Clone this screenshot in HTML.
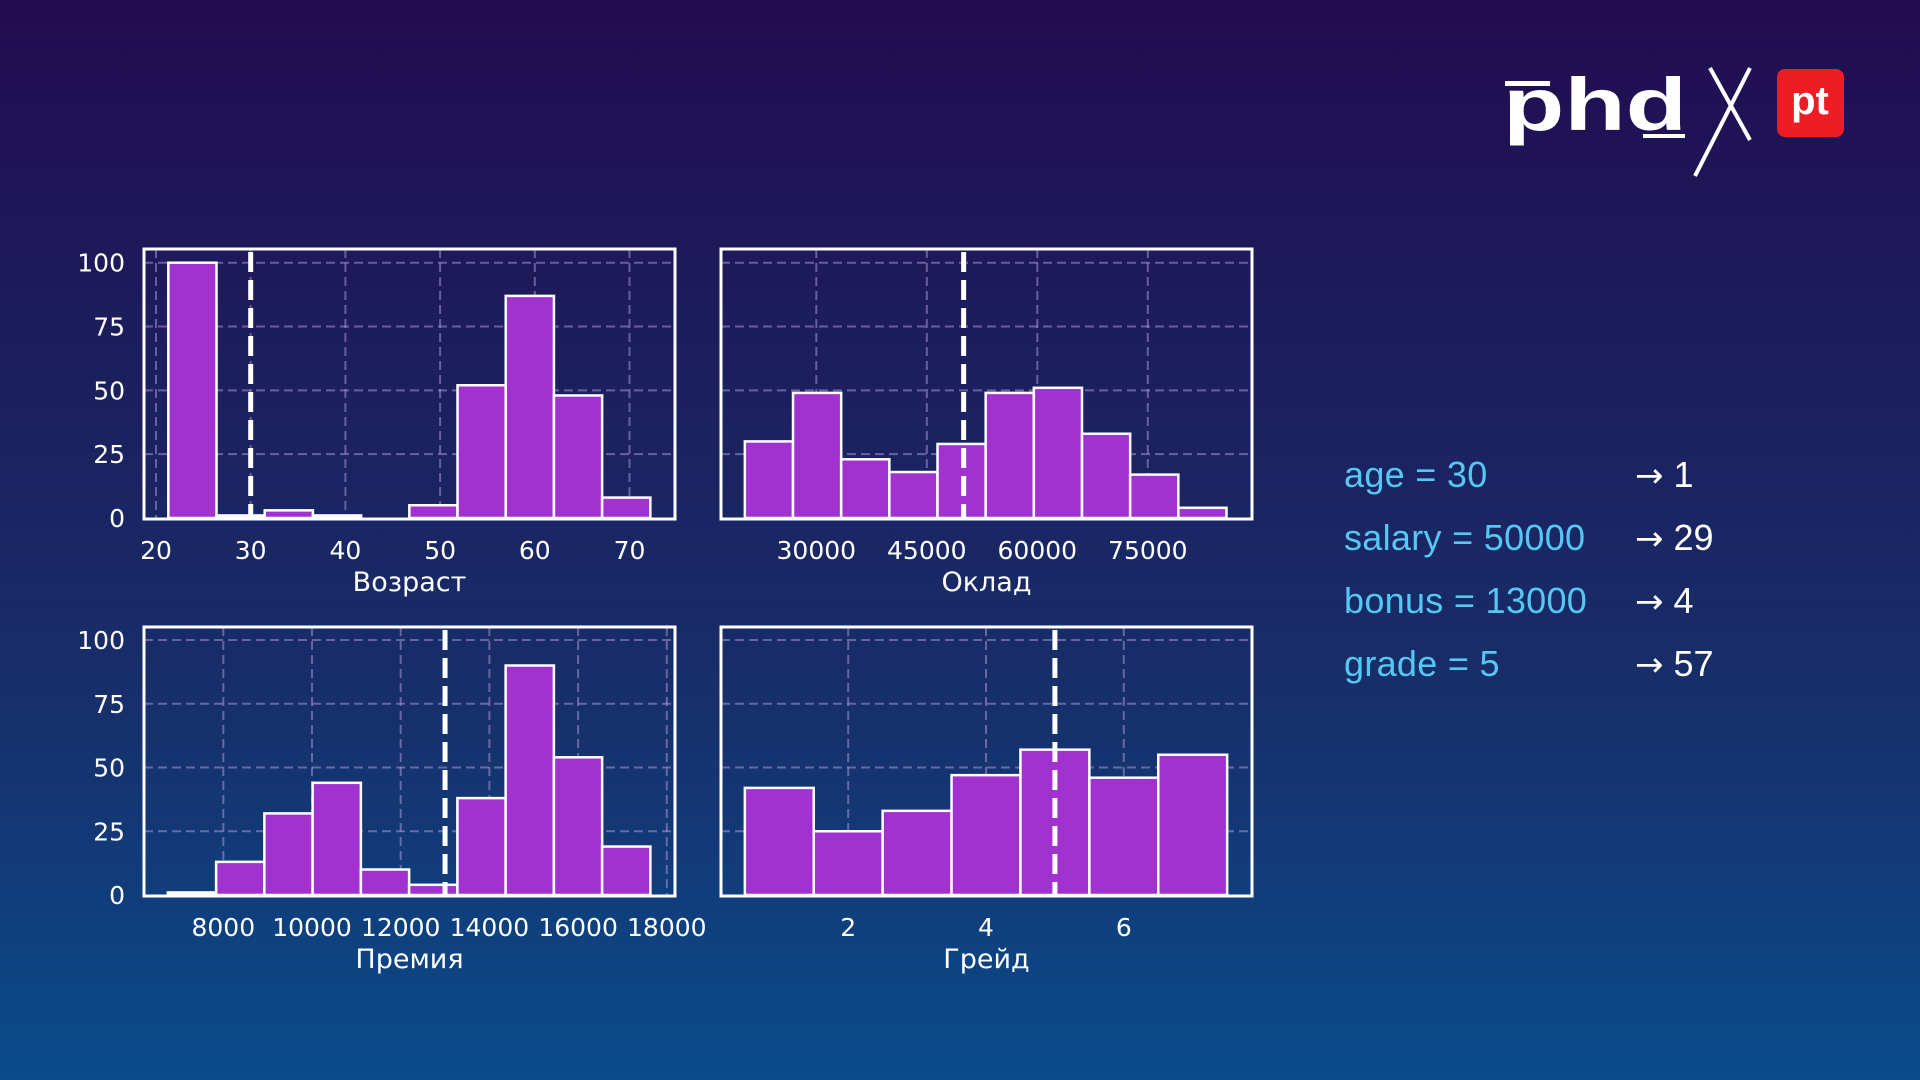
<!DOCTYPE html>
<html><head><meta charset="utf-8">
<style>
html,body{margin:0;padding:0;width:1920px;height:1080px;overflow:hidden;}
body{background:linear-gradient(180deg,#220c50 0%,#1c1f5e 35%,#172f6a 65%,#0a4b8c 100%);font-family:"DejaVu Sans","Liberation Sans",sans-serif;}
svg{position:absolute;left:0;top:0;}
.info{position:absolute;font-family:"Liberation Sans",sans-serif;font-size:36px;color:#54c8f2;letter-spacing:0.3px;}
.res{position:absolute;font-family:"Liberation Sans",sans-serif;font-size:36px;color:#fff;}
.arr{font-family:"DejaVu Sans",sans-serif;font-size:34px;}
</style></head>
<body>
<svg id="chart" width="1920" height="1080">
  <g>
    <rect x="1505" y="81" width="45" height="5" fill="#fff"/>
    <text x="1503" y="130" font-family="Liberation Sans, sans-serif" font-weight="bold" font-size="74" fill="#fff" textLength="184" lengthAdjust="spacingAndGlyphs">phd</text>
    <rect x="1643" y="134" width="42" height="4" fill="#fff"/>
    <line x1="1710" y1="68" x2="1750" y2="140" stroke="#fff" stroke-width="4"/>
    <line x1="1750" y1="68" x2="1695" y2="176" stroke="#fff" stroke-width="4"/>
    <rect x="1777" y="69" width="67" height="68" rx="8" fill="#ee1c24"/>
    <text x="1810" y="114" text-anchor="middle" font-family="Liberation Sans, sans-serif" font-weight="bold" font-size="40" fill="#fff">pt</text>
  </g>
</svg>

<div class="info" style="left:1344px;top:454px">age = 30</div>
<div class="info" style="left:1344px;top:517px">salary = 50000</div>
<div class="info" style="left:1344px;top:580px">bonus = 13000</div>
<div class="info" style="left:1344px;top:643px">grade = 5</div>
<div class="res" style="left:1635px;top:454px"><span class="arr">→</span> 1</div>
<div class="res" style="left:1635px;top:517px"><span class="arr">→</span> 29</div>
<div class="res" style="left:1635px;top:580px"><span class="arr">→</span> 4</div>
<div class="res" style="left:1635px;top:643px"><span class="arr">→</span> 57</div>

<script>
// ---- data ----
const ageCounts = [100, 1, 3, 1, 0, 5, 52, 87, 48, 8];
const ageBinStart = 21.3, ageBinEnd = 72.2;
const ageTicks = [20, 30, 40, 50, 60, 70];
const ageMarker = 30;

const salaryCounts = [30, 49, 23, 18, 29, 49, 51, 33, 17, 4];
const salaryBinStart = 20300, salaryBinEnd = 85680;
const salaryTicks = [30000, 45000, 60000, 75000];
const salaryMarker = 50000;

const bonusCounts = [1, 13, 32, 44, 10, 4, 38, 90, 54, 19];
const bonusBinStart = 6750, bonusBinEnd = 17630;
const bonusTicks = [8000, 10000, 12000, 14000, 16000, 18000];
const bonusMarker = 13000;

const gradeCounts = [42, 25, 33, 47, 57, 46, 55];
const gradeBinStart = 0.5, gradeBinEnd = 7.5;
const gradeTicks = [2, 4, 6];
const gradeMarker = 5;

const yTicks = [0, 25, 50, 75, 100];

const NS = 'http://www.w3.org/2000/svg';
const svg = document.getElementById('chart');
function mk(tag, attrs, parent){
  const e = document.createElementNS(NS, tag);
  for (const k in attrs) e.setAttribute(k, attrs[k]);
  parent.appendChild(e);
  return e;
}

function panel(o){
  const g = mk('g', {}, svg);
  
  
  const L=o.left, R=o.right, T=o.top, B=o.bottom;
  const xs = v => o.px0 + (v - o.v0) * o.k;
  const ys = v => o.y0 + (v) * (o.y100 - o.y0) / 100;
  yTicks.forEach(t=>{
    if (t===0) return;
    const l = mk('line', {x1:L, x2:R, y1:ys(t), y2:ys(t), stroke:'rgba(170,150,215,0.55)', 'stroke-width':2, 'stroke-dasharray':'9 5'}, g);
    
    
  });
  o.ticks.forEach(t=>{
    const x = xs(t);
    if (x > L && x < R){
      const l = mk('line', {x1:x, x2:x, y1:T, y2:B, stroke:'rgba(170,150,215,0.55)', 'stroke-width':2, 'stroke-dasharray':'9 5'}, g);
      
      
    }
    const tx = mk('text', {x:x, y:B+40, 'text-anchor':'middle', 'font-size':25, fill:'#fff'}, g);
    tx.textContent = t;
    
    
  });
  if (o.showY){
    yTicks.forEach(t=>{
      const tx = mk('text', {x:L-19, y:ys(t)+9, 'text-anchor':'end', 'font-size':25, fill:'#fff'}, g);
      tx.textContent = t;
      
      
    });
  }
  const n = o.counts.length, w = (o.binEnd - o.binStart)/n;
  o.counts.forEach((c,i)=>{
    const x1 = xs(o.binStart + i*w), x2 = xs(o.binStart + (i+1)*w);
    const r = mk('rect', {x:x1, y:ys(c), width:x2-x1, height:ys(0)-ys(c), fill:'#a232d0', stroke:'#fff', 'stroke-width':2.5}, g);
    
    
  });
  const mx = xs(o.marker);
  const m = mk('line', {x1:mx, x2:mx, y1:T+3, y2:B, stroke:'#fff', 'stroke-width':5, 'stroke-dasharray':'20 8'}, g);
  
  
  const f = mk('rect', {x:L, y:T, width:R-L, height:B-T, fill:'none', stroke:'#fff', 'stroke-width':3}, g);
  
  
  const tt = mk('text', {x:(L+R)/2, y:B+72, 'text-anchor':'middle', 'font-size':27, fill:'#fff'}, g);
  tt.textContent = o.title;
  
  
}

panel({name:'age-histogram', left:144, right:675, top:249, bottom:519, y0:518, y100:262.7,
  px0:156, v0:20, k:9.47, ticks:ageTicks, counts:ageCounts, binStart:ageBinStart, binEnd:ageBinEnd,
  marker:ageMarker, title:'Возраст', showY:true});
panel({name:'salary-histogram', left:721, right:1252, top:249, bottom:519, y0:518, y100:262.7,
  px0:816.3, v0:30000, k:0.007367, ticks:salaryTicks, counts:salaryCounts, binStart:salaryBinStart, binEnd:salaryBinEnd,
  marker:salaryMarker, title:'Оклад', showY:false});
panel({name:'bonus-histogram', left:144, right:675, top:627, bottom:896, y0:895, y100:640,
  px0:223.3, v0:8000, k:0.04435, ticks:bonusTicks, counts:bonusCounts, binStart:bonusBinStart, binEnd:bonusBinEnd,
  marker:bonusMarker, title:'Премия', showY:true});
panel({name:'grade-histogram', left:721, right:1252, top:627, bottom:896, y0:895, y100:640,
  px0:848.2, v0:2, k:68.9, ticks:gradeTicks, counts:gradeCounts, binStart:gradeBinStart, binEnd:gradeBinEnd,
  marker:gradeMarker, title:'Грейд', showY:false});
</script>
</body></html>
